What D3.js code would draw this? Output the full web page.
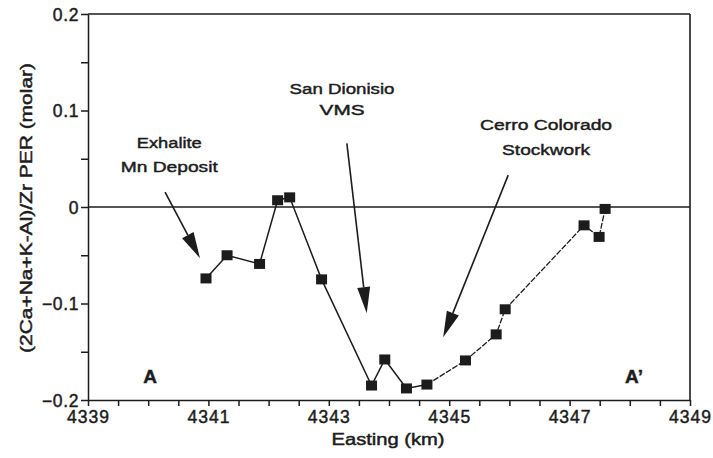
<!DOCTYPE html>
<html>
<head>
<meta charset="utf-8">
<script src="https://cdnjs.cloudflare.com/ajax/libs/d3/7.8.5/d3.min.js"></script>
<style>
  body { margin: 0; background: #fff; }
  text { font-family: "Liberation Sans", Arial, sans-serif; fill: #1c1c1c; stroke: #1c1c1c; stroke-width: 0.45px; }
</style>
</head>
<body>
<div id="chart"></div>
<script>
// sample points along section A-A'
var easting = [4340.96, 4341.31, 4341.85, 4342.15, 4342.35, 4342.88, 4343.71, 4343.93,
               4344.29, 4344.63, 4345.27, 4345.78, 4345.93, 4347.24, 4347.49, 4347.59];
var per = [-0.074, -0.050, -0.059, 0.007, 0.010, -0.075, -0.185, -0.158,
           -0.188, -0.184, -0.159, -0.132, -0.106, -0.019, -0.031, -0.002];

var xTickLabels = [4339, 4341, 4343, 4345, 4347, 4349];
var yTickLabels = [-0.2, -0.1, 0, 0.1, 0.2];

// labels, in data units
var noteText = [["Exhalite", "Mn Deposit"], ["San Dionisio", "VMS"], ["Cerro Colorado", "Stockwork"]];
var noteX = [4340.35, 4343.22, 4346.61];
var noteY = [[0.061, 0.036], [0.117, 0.095], [0.080, 0.054]];
var noteW = [[65, 97], [105, 45], [132, 88]];
var arrowFrom = [[4340.28, 0.0155], [4343.30, 0.066], [4345.98, 0.033]];
var arrowTo = [[4340.86, -0.053], [4343.63, -0.110], [4344.90, -0.135]];

var width = 713, height = 458;
var margin = {top: 14, right: 23, bottom: 58, left: 88};

var svg = d3.select('#chart').append('svg')
    .attr('width', width)
    .attr('height', height);

var x = d3.scaleLinear().domain([4339, 4349]).range([margin.left, width - margin.right]);
var y = d3.scaleLinear().domain([-0.2, 0.2]).range([height - margin.bottom, margin.top]);

var ink = '#1c1c1c';

// x axis: ticks every 0.5 km, labels on odd km
var xAxis = d3.axisBottom(x)
    .tickValues(d3.range(4339, 4349.01, 0.5))
    .tickSize(6)
    .tickSizeOuter(0)
    .tickFormat(d => xTickLabels.includes(d) ? d : '');
var gx = svg.append('g')
    .attr('transform', 'translate(0,' + y(-0.2) + ')')
    .call(xAxis);
gx.selectAll('text')
    .attr('dy', null)
    .attr('y', 23)
    .style('font-size', '17.5px')
    .style('letter-spacing', '1px');

var yAxis = d3.axisLeft(y)
    .tickValues(d3.range(-0.2, 0.2001, 0.05).map(d => +d.toFixed(2)))
    .tickSize(7)
    .tickSizeOuter(0)
    .tickFormat(d => yTickLabels.includes(d) ? d3.format('')(d) : '');
var gy = svg.append('g')
    .attr('transform', 'translate(' + x(4339) + ',0)')
    .call(yAxis);
gy.selectAll('text')
    .attr('x', -9)
    .attr('dy', '0.36em')
    .style('font-size', '17.5px')
    .style('letter-spacing', '0.6px');

svg.selectAll('.domain, .tick line')
    .attr('stroke', ink)
    .attr('stroke-width', 1.5);

// frame top and right, zero line
svg.append('line')
    .attr('x1', x(4339)).attr('x2', x(4349))
    .attr('y1', y(0.2)).attr('y2', y(0.2))
    .attr('stroke', ink).attr('stroke-width', 1.6);
svg.append('line')
    .attr('x1', x(4349)).attr('x2', x(4349))
    .attr('y1', y(0.2)).attr('y2', y(-0.2))
    .attr('stroke', ink).attr('stroke-width', 1.6);
svg.append('line')
    .attr('x1', x(4339)).attr('x2', x(4349))
    .attr('y1', y(0)).attr('y2', y(0))
    .attr('stroke', ink).attr('stroke-width', 1.4);

// data line: solid to the VMS low, then the thinner broken trace
var pts = easting.map((e, i) => [e, per[i]]);
var line = d3.line().x(d => x(d[0])).y(d => y(d[1]));
svg.append('path')
    .attr('d', line(pts.slice(0, 10)))
    .attr('fill', 'none')
    .attr('stroke', ink)
    .attr('stroke-width', 1.5);
svg.append('path')
    .attr('d', line(pts.slice(9)))
    .attr('fill', 'none')
    .attr('stroke', ink)
    .attr('stroke-width', 1.3)
    .attr('stroke-dasharray', '6,1.5');

svg.selectAll('rect.pt')
    .data(pts)
    .enter()
    .append('rect')
    .attr('class', 'pt')
    .attr('x', d => x(d[0]) - 5.5)
    .attr('y', d => y(d[1]) - 5)
    .attr('width', 11)
    .attr('height', 10)
    .attr('fill', ink);

// annotations
noteText.forEach(function(lines, i) {
    lines.forEach(function(t, j) {
        svg.append('text')
            .attr('x', x(noteX[i]))
            .attr('y', y(noteY[i][j]))
            .attr('text-anchor', 'middle')
            .attr('textLength', noteW[i][j])
            .attr('lengthAdjust', 'spacingAndGlyphs')
            .style('font-size', '15.5px')
            .text(t);
    });
});

arrowFrom.forEach(function(a, i) {
    var x1 = x(a[0]), y1 = y(a[1]);
    var x2 = x(arrowTo[i][0]), y2 = y(arrowTo[i][1]);
    var ang = Math.atan2(y2 - y1, x2 - x1);
    var len = 26, hw = 6.5;
    var bx = x2 - len * Math.cos(ang), by = y2 - len * Math.sin(ang);
    svg.append('line')
        .attr('x1', x1).attr('y1', y1)
        .attr('x2', bx).attr('y2', by)
        .attr('stroke', ink).attr('stroke-width', 1.6);
    var px = -Math.sin(ang) * hw, py = Math.cos(ang) * hw;
    svg.append('path')
        .attr('d', 'M' + x2 + ',' + y2 +
            'L' + (bx + px) + ',' + (by + py) +
            'L' + (bx - px) + ',' + (by - py) + 'Z')
        .attr('fill', ink);
});

// section end labels
svg.append('text')
    .attr('x', x(4340.03)).attr('y', y(-0.182))
    .attr('text-anchor', 'middle')
    .style('font-size', '19px').style('font-weight', 'bold')
    .text('A');
svg.append('text')
    .attr('x', x(4348.07)).attr('y', y(-0.182))
    .attr('text-anchor', 'middle')
    .style('font-size', '19px').style('font-weight', 'bold')
    .text('A\u2019');

// axis titles
svg.append('text')
    .attr('x', 388).attr('y', 445)
    .attr('text-anchor', 'middle')
    .attr('textLength', 113)
    .attr('lengthAdjust', 'spacingAndGlyphs')
    .style('font-size', '16px')
    .text('Easting (km)');
svg.append('text')
    .attr('transform', 'translate(32,208) rotate(-90)')
    .attr('text-anchor', 'middle')
    .attr('textLength', 290)
    .attr('lengthAdjust', 'spacingAndGlyphs')
    .style('font-size', '16px')
    .text('(2Ca+Na+K-Al)/Zr PER (molar)');
</script>
</body>
</html>
